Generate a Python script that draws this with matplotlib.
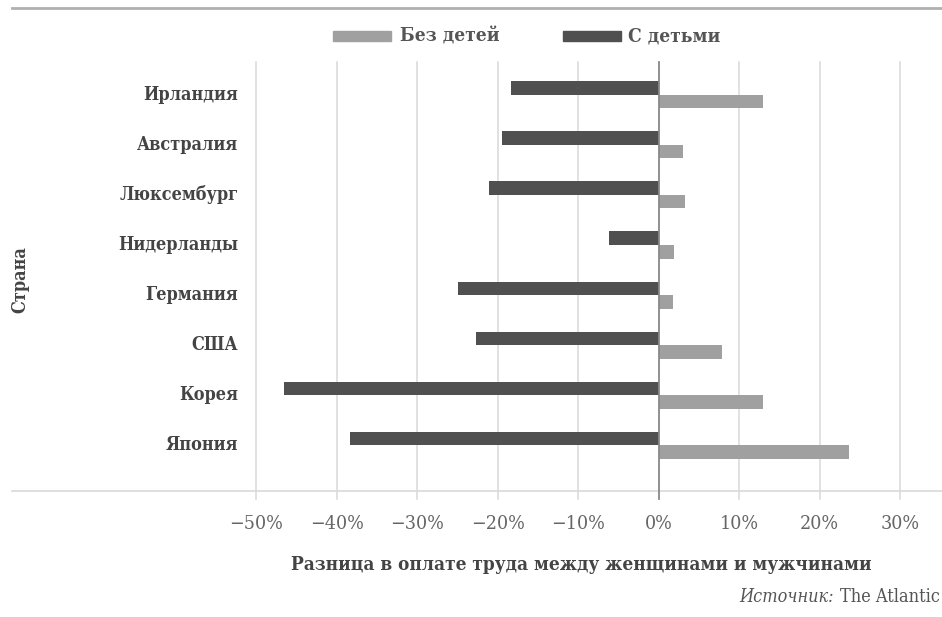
import matplotlib
matplotlib.use("Agg")
import matplotlib.pyplot as plt
from matplotlib.patches import Rectangle
from matplotlib.lines import Line2D

countries = ["Ирландия", "Австралия", "Люксембург", "Нидерланды", "Германия", "США", "Корея", "Япония"]
no_children = [13.0, 3.0, 3.3, 1.9, 1.8, 7.9, 13.0, 23.6]
with_children = [-18.3, -19.5, -21.1, -6.2, -24.9, -22.7, -46.6, -38.3]
xticks = [-50, -40, -30, -20, -10, 0, 10, 20, 30]
xtick_labels = ["−50%", "−40%", "−30%", "−20%", "−10%", "0%", "10%", "20%", "30%"]
legend_labels = ["Без детей", "С детьми"]

LIGHT = "#a0a0a0"
DARK = "#505050"
GRID = "#d9d9d9"
FONT = dict(family="DejaVu Serif", stretch="condensed")

fig = plt.figure(figsize=(9.42, 6.17), dpi=100)
ax = fig.add_axes([12/942, 1-491/617, 1-12/942, (491-62)/617])

px_per_pct = 8.05
x0 = 658.75
xmin = (12 - x0) / px_per_pct
xmax = (942 - x0) / px_per_pct
ax.set_xlim(xmin, xmax)
ax.set_ylim(7.914, -0.656)

h = 0.27
ypos = list(range(len(countries)))
ax.barh([y - h/2 for y in ypos], with_children, height=h, color=DARK, zorder=3)
ax.barh([y + h/2 for y in ypos], no_children, height=h, color=LIGHT, zorder=3)

for s in ax.spines.values():
    s.set_visible(False)
ax.axhline(7.914, color=GRID, lw=1.2, zorder=2, clip_on=False)
for t in xticks:
    c = "#888888" if t == 0 else GRID
    ax.plot([t, t], [-0.656, 8.08], color=c, lw=1.1 if t else 1.3, zorder=2 if t else 4, clip_on=False)
ax.set_xticks(xticks)
ax.set_xticklabels(xtick_labels, fontsize=14, color="#666666", **FONT)
ax.tick_params(axis="x", length=0, pad=17)
ax.set_yticks([])

for y, name in zip(ypos, countries):
    ax.text(-52.25, y, name, ha="right", va="center", fontsize=13, fontweight="bold",
            color="#444444", **FONT)

fig.text(20/942, 1-280/617, "Страна", rotation=90, ha="center", va="center", fontsize=13,
         fontweight="bold", color="#444444", **FONT)

fig.text(581/942, 1-565/617, "Разница в оплате труда между женщинами и мужчинами", ha="center", va="center",
         fontsize=13.6, fontweight="bold", color="#444444", **FONT)
src = fig.text(940/942, 1-597/617, "The Atlantic", ha="right", va="center", fontsize=13, color="#555555", **FONT)
r = fig.canvas.get_renderer()
bb = src.get_window_extent(r)
fig.text((bb.x0 - 6) / fig.bbox.width, 1-597/617, "Источник:", ha="right", va="center", fontsize=13,
         style="italic", color="#555555", **FONT)

# top rule
fig.add_artist(Line2D([12/942, 1], [1-8/617, 1-8/617], color="#b0b0b0", lw=2))

# legend
fig.add_artist(Rectangle((333/942, 1-41/617), 58/942, 10/617, color=LIGHT))
fig.text(400/942, 1-36.5/617, legend_labels[0], ha="left", va="center", fontsize=13.8, fontweight="bold",
         color="#555555", **FONT)
fig.add_artist(Rectangle((563/942, 1-41/617), 58/942, 10/617, color=DARK))
fig.text(628/942, 1-36.5/617, legend_labels[1], ha="left", va="center", fontsize=13.8, fontweight="bold",
         color="#555555", **FONT)

fig.savefig("out.png", dpi=100)
